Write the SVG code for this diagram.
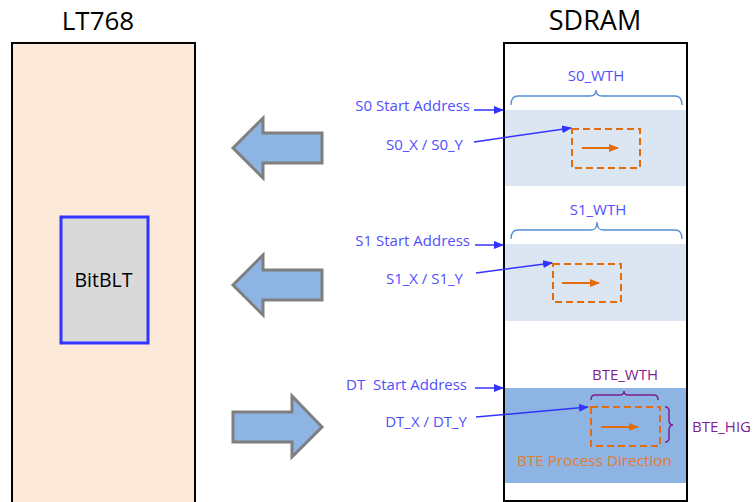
<svg xmlns="http://www.w3.org/2000/svg" width="753" height="502" viewBox="0 0 753 502">
<defs>
<style>
.title{font-family:"Open Sans","Liberation Sans",sans-serif;font-size:26px;fill:#000;text-anchor:middle}
.lbl{font-family:"Open Sans","Liberation Sans",sans-serif;font-size:15px;fill:#4F4FFF}
.pur{font-family:"Open Sans","Liberation Sans",sans-serif;font-size:15px;fill:#7F1F8F}
.org{font-family:"Open Sans","Liberation Sans",sans-serif;font-size:15.3px;fill:#E87A2E}
.brace{fill:none;stroke:#558ED5;stroke-width:1.3}
.pbrace{fill:none;stroke:#7F1F8F;stroke-width:1.5}
.dash{fill:none;stroke:#E46C0A;stroke-width:2;stroke-dasharray:7,4}
.bar{fill:#8EB4E3;stroke:#7F7F7F;stroke-width:3;stroke-linejoin:miter}
.conn{stroke:#3333FF;stroke-width:1.5;fill:none}
.oar{stroke:#E46C0A;stroke-width:1.8;fill:none}
</style>
<marker id="ba" markerWidth="10" markerHeight="8" refX="9" refY="4" orient="auto" markerUnits="userSpaceOnUse">
<path d="M0,0 L10,4 L0,8 Z" fill="#3333FF"/>
</marker>
<marker id="oa" markerWidth="10" markerHeight="8" refX="9" refY="4" orient="auto" markerUnits="userSpaceOnUse">
<path d="M0,0 L10,4 L0,8 Z" fill="#E46C0A"/>
</marker>
</defs>
<rect width="753" height="502" fill="#fff"/>

<g id="lt768">
<text class="title" x="98" y="30">LT768</text>
<rect x="12" y="43" width="183" height="470" fill="#FDE9D9" stroke="#000" stroke-width="2"/>
</g>

<g id="bitblt">
<rect x="61" y="217" width="87" height="126" fill="#D9D9D9" stroke="#3333FF" stroke-width="3"/>
<text x="103.5" y="287" font-family="Open Sans, Liberation Sans, sans-serif" font-size="19.5" text-anchor="middle" fill="#000">BitBLT</text>
</g>

<g id="sdram">
<text class="title" x="595" y="30" style="font-size:27px">SDRAM</text>
<rect x="504" y="43" width="183" height="458" fill="#fff" stroke="#000" stroke-width="2"/>
<rect x="505" y="110" width="181" height="76" fill="#DCE6F2"/>
<rect x="505" y="244" width="181" height="77" fill="#DCE6F2"/>
<rect x="505" y="388" width="181" height="95" fill="#8EB4E3"/>
</g>

<g id="s0">
<text class="lbl" x="596" y="81" text-anchor="middle">S0_WTH</text>
<path class="brace" d="M511,105 Q511,96 518,96 L590,96 Q596,96 596,90 Q596,96 602,96 L675,96 Q682,96 682,105"/>
<rect class="dash" x="572" y="129" width="68" height="39"/>
<line class="oar" x1="582" y1="148" x2="618" y2="148" marker-end="url(#oa)"/>
<text class="lbl" x="470" y="111" text-anchor="end">S0 Start Address</text>
<text class="lbl" x="463" y="150" text-anchor="end">S0_X / S0_Y</text>
</g>

<g id="s1">
<text class="lbl" x="598" y="215" text-anchor="middle">S1_WTH</text>
<path class="brace" d="M511,239 Q511,230 518,230 L591,230 Q597,230 597,222 Q597,230 603,230 L675,230 Q682,230 682,239"/>
<rect class="dash" x="553" y="264" width="68" height="38"/>
<line class="oar" x1="562" y1="283" x2="599" y2="283" marker-end="url(#oa)"/>
<text class="lbl" x="470" y="246" text-anchor="end">S1 Start Address</text>
<text class="lbl" x="463" y="284" text-anchor="end">S1_X / S1_Y</text>
</g>

<g id="dt">
<text class="pur" x="625" y="380" text-anchor="middle">BTE_WTH</text>
<path class="pbrace" d="M591,400 Q591,395 595,395 L620,395 Q624,395 624,391 Q624,395 628,395 L654,395 Q658,395 658,400"/>
<rect class="dash" x="591" y="407" width="69" height="39"/>
<line class="oar" x1="601" y1="427" x2="638" y2="427" marker-end="url(#oa)"/>
<path class="pbrace" d="M665,407 Q669,407 669,411 L669,420 Q669,425 673,425 Q669,425 669,430 L669,438 Q669,442 665,442"/>
<text class="pur" x="692" y="432">BTE_HIG</text>
<text class="org" x="517" y="466">BTE Process Direction</text>
<text class="lbl" x="467" y="390" text-anchor="end" xml:space="preserve">DT  Start Address</text>
<text class="lbl" x="467" y="427" text-anchor="end">DT_X / DT_Y</text>
</g>

<g id="bigarrows">
<path class="bar" d="M233,148 L263,118 L263,133 L322,133 L322,163 L263,163 L263,178 Z"/>
<path class="bar" d="M233,285 L263,255 L263,270 L322,270 L322,300 L263,300 L263,315 Z"/>
<path class="bar" d="M322,427 L292,396 L292,412 L233,412 L233,442 L292,442 L292,457 Z"/>
</g>

<g id="connectors">
<line class="conn" x1="474" y1="110" x2="503" y2="110" marker-end="url(#ba)"/>
<line class="conn" x1="474" y1="142" x2="571" y2="128" marker-end="url(#ba)"/>
<line class="conn" x1="475" y1="245" x2="503" y2="245" marker-end="url(#ba)"/>
<line class="conn" x1="476" y1="273" x2="552" y2="263" marker-end="url(#ba)"/>
<line class="conn" x1="475" y1="388" x2="503" y2="388" marker-end="url(#ba)"/>
<line class="conn" x1="476" y1="417" x2="588" y2="407" marker-end="url(#ba)"/>
</g>
</svg>
